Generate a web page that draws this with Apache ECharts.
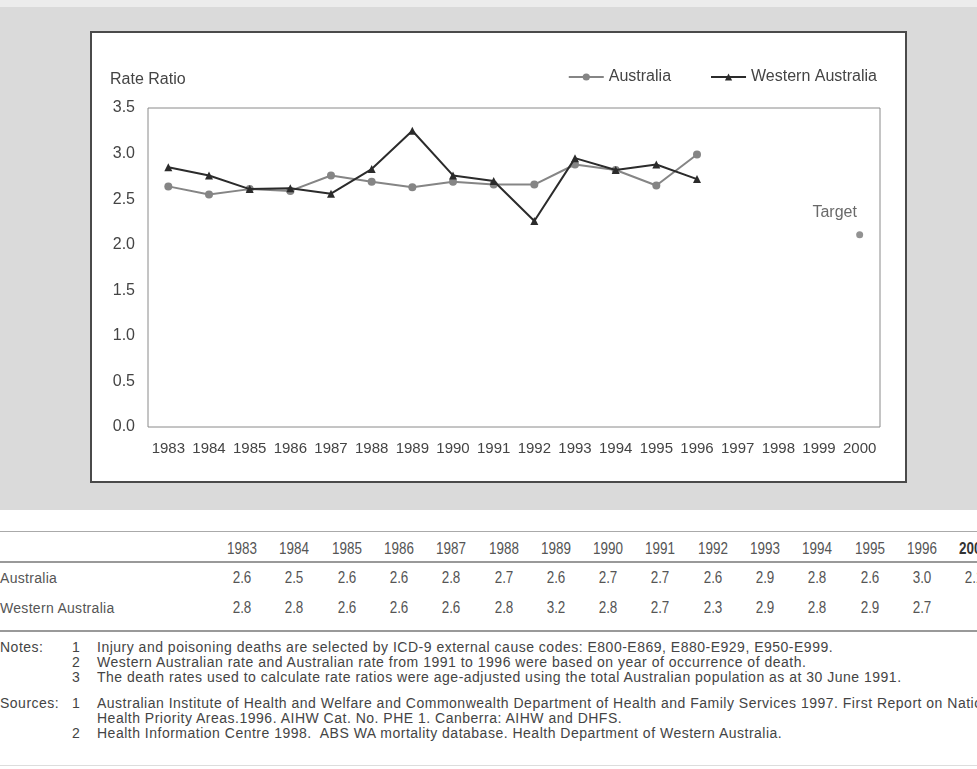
<!DOCTYPE html>
<html>
<head>
<meta charset="utf-8">
<script src="https://cdn.jsdelivr.net/npm/echarts@6/dist/echarts.min.js"></script>
<style>
  html, body {
    margin: 0;
    padding: 0;
    background: #fff;
    width: 977px;
    height: 769px;
    overflow: hidden;
    position: relative;
    font-family: "Liberation Sans", Arial, sans-serif;
  }
  #main {
    position: absolute;
    left: 0;
    top: 0;
    width: 977px;
    height: 510px;
  }
  .hline {
    position: absolute;
    left: 0;
    width: 977px;
  }
  .cell {
    position: absolute;
    white-space: nowrap;
    color: #555;
  }
  .num {
    width: 50px;
    text-align: center;
    font-size: 16px;
    transform: scaleX(0.84);
    transform-origin: 50% 50%;
  }
  .rowname {
    left: 0;
    font-size: 14px;
    letter-spacing: 0.3px;
  }
  .note {
    position: absolute;
    white-space: nowrap;
    font-size: 14px;
    letter-spacing: 0.5px;
    color: #444;
  }
</style>
</head>
<body>
<div id="main"></div>
<div id="table"></div>
<div id="notes"></div>
<script>
// 图表数据
const years = ['1983', '1984', '1985', '1986', '1987', '1988', '1989', '1990', '1991',
  '1992', '1993', '1994', '1995', '1996', '1997', '1998', '1999', '2000'];
const australia = [2.64, 2.55, 2.61, 2.59, 2.76, 2.69, 2.63, 2.69, 2.66, 2.66,
  2.88, 2.82, 2.65, 2.99, null, null, null, null];
const westernAustralia = [2.85, 2.76, 2.61, 2.62, 2.56, 2.83, 3.25, 2.76, 2.70, 2.26,
  2.95, 2.82, 2.88, 2.72, null, null, null, null];
const target = [['2000', 2.11]];

// 表格数据
const tableYears = ['1983', '1984', '1985', '1986', '1987', '1988', '1989', '1990',
  '1991', '1992', '1993', '1994', '1995', '1996', '2000'];
const tableAustralia = ['2.6', '2.5', '2.6', '2.6', '2.8', '2.7', '2.6', '2.7',
  '2.7', '2.6', '2.9', '2.8', '2.6', '3.0', '2.1'];
const tableWestern = ['2.8', '2.8', '2.6', '2.6', '2.6', '2.8', '3.2', '2.8',
  '2.7', '2.3', '2.9', '2.8', '2.9', '2.7', ''];

// 注释
const notes = [
  'Injury and poisoning deaths are selected by ICD-9 external cause codes: E800-E869, E880-E929, E950-E999.',
  'Western Australian rate and Australian rate from 1991 to 1996 were based on year of occurrence of death.',
  'The death rates used to calculate rate ratios were age-adjusted using the total Australian population as at 30 June 1991.'
];
const sources = [
  ['Australian Institute of Health and Welfare and Commonwealth Department of Health and Family Services 1997. First Report on National',
   'Health Priority Areas.1996. AIHW Cat. No. PHE 1. Canberra: AIHW and DHFS.'],
  ['Health Information Centre 1998.&nbsp; ABS WA mortality database. Health Department of Western Australia.']
];

var myChart = echarts.init(document.getElementById('main'));

myChart.setOption({
  backgroundColor: '#dadada',
  animation: false,
  textStyle: { fontFamily: '"Liberation Sans", Arial, sans-serif' },
  graphic: [
    {
      type: 'rect',
      z: -2,
      shape: { x: 0, y: 0, width: 977, height: 7 },
      style: { fill: '#ececec' }
    },
    {
      type: 'rect',
      z: -1,
      shape: { x: 91, y: 32, width: 815, height: 450 },
      style: { fill: '#fff', stroke: '#4a4a4a', lineWidth: 2 }
    },
    {
      type: 'text',
      left: 110,
      top: 72,
      style: { text: 'Rate Ratio', fill: '#444', fontSize: 16, fontFamily: '"Liberation Sans", Arial' }
    }
  ],
  legend: {
    top: 64,
    right: 95,
    itemWidth: 35,
    itemHeight: 9,
    itemGap: 39,
    textStyle: { fontSize: 16, color: '#444' },
    data: ['Australia', 'Western Australia']
  },
  grid: {
    left: 148,
    right: 97,
    top: 108,
    bottom: 83,
    show: true,
    backgroundColor: '#fff',
    borderColor: '#8a8a8a',
    borderWidth: 1
  },
  xAxis: {
    type: 'category',
    data: years,
    boundaryGap: true,
    axisLine: { show: false },
    axisTick: { show: false },
    axisLabel: { color: '#444', fontSize: 15, margin: 14, interval: 0 }
  },
  yAxis: {
    type: 'value',
    min: 0,
    max: 3.5,
    interval: 0.5,
    axisLine: { show: false },
    axisTick: { show: false },
    splitLine: { show: false },
    axisLabel: {
      color: '#444',
      fontSize: 16,
      margin: 13,
      formatter: function (v) {
        return v.toFixed(1);
      }
    }
  },
  series: [
    {
      name: 'Australia',
      type: 'line',
      data: australia,
      color: '#858585',
      symbol: 'circle',
      symbolSize: 8,
      lineStyle: { width: 2 },
      z: 2
    },
    {
      name: 'Western Australia',
      type: 'line',
      data: westernAustralia,
      color: '#2b2b2b',
      symbol: 'triangle',
      symbolSize: 8,
      lineStyle: { width: 2 },
      z: 3
    },
    {
      name: 'Target',
      type: 'scatter',
      data: target,
      color: '#777',
      symbol: 'circle',
      symbolSize: 7,
      label: {
        show: true,
        formatter: 'Target',
        position: 'top',
        offset: [-25, -6],
        color: '#444',
        fontSize: 16
      }
    }
  ]
});

// 表格
var tableEl = document.getElementById('table');
var html = '';
html += '<div class="hline" style="top:531px;border-top:1px solid #aaa;"></div>';
html += '<div class="hline" style="top:561px;border-top:2px solid #999;"></div>';
html += '<div class="hline" style="top:630px;border-top:2px solid #999;"></div>';
html += '<div class="hline" style="top:765px;border-top:1px solid #ddd;"></div>';
tableYears.forEach(function (y, i) {
  var x = 242 + i * 52.3 - 25;
  var bold = y === '2000' ? 'font-weight:bold;color:#333;' : '';
  html += '<div class="cell num" style="left:' + x + 'px;top:540px;' + bold + '">' + y + '</div>';
  html += '<div class="cell num" style="left:' + x + 'px;top:569px;">' + tableAustralia[i] + '</div>';
  html += '<div class="cell num" style="left:' + x + 'px;top:599px;">' + tableWestern[i] + '</div>';
});
html += '<div class="cell rowname" style="top:570px;">Australia</div>';
html += '<div class="cell rowname" style="top:600px;">Western Australia</div>';
tableEl.innerHTML = html;

// 注释和来源
var notesEl = document.getElementById('notes');
var nh = '';
nh += '<div class="note" style="left:0;top:639px;">Notes:</div>';
notes.forEach(function (t, i) {
  var top = 639 + i * 15;
  nh += '<div class="note" style="left:72px;top:' + top + 'px;">' + (i + 1) + '</div>';
  nh += '<div class="note" style="left:97px;top:' + top + 'px;">' + t + '</div>';
});
nh += '<div class="note" style="left:0;top:695px;">Sources:</div>';
var row = 0;
sources.forEach(function (lines, i) {
  nh += '<div class="note" style="left:72px;top:' + (695 + row * 15) + 'px;">' + (i + 1) + '</div>';
  lines.forEach(function (t) {
    nh += '<div class="note" style="left:97px;top:' + (695 + row * 15) + 'px;">' + t + '</div>';
    row++;
  });
});
notesEl.innerHTML = nh;
</script>
</body>
</html>
